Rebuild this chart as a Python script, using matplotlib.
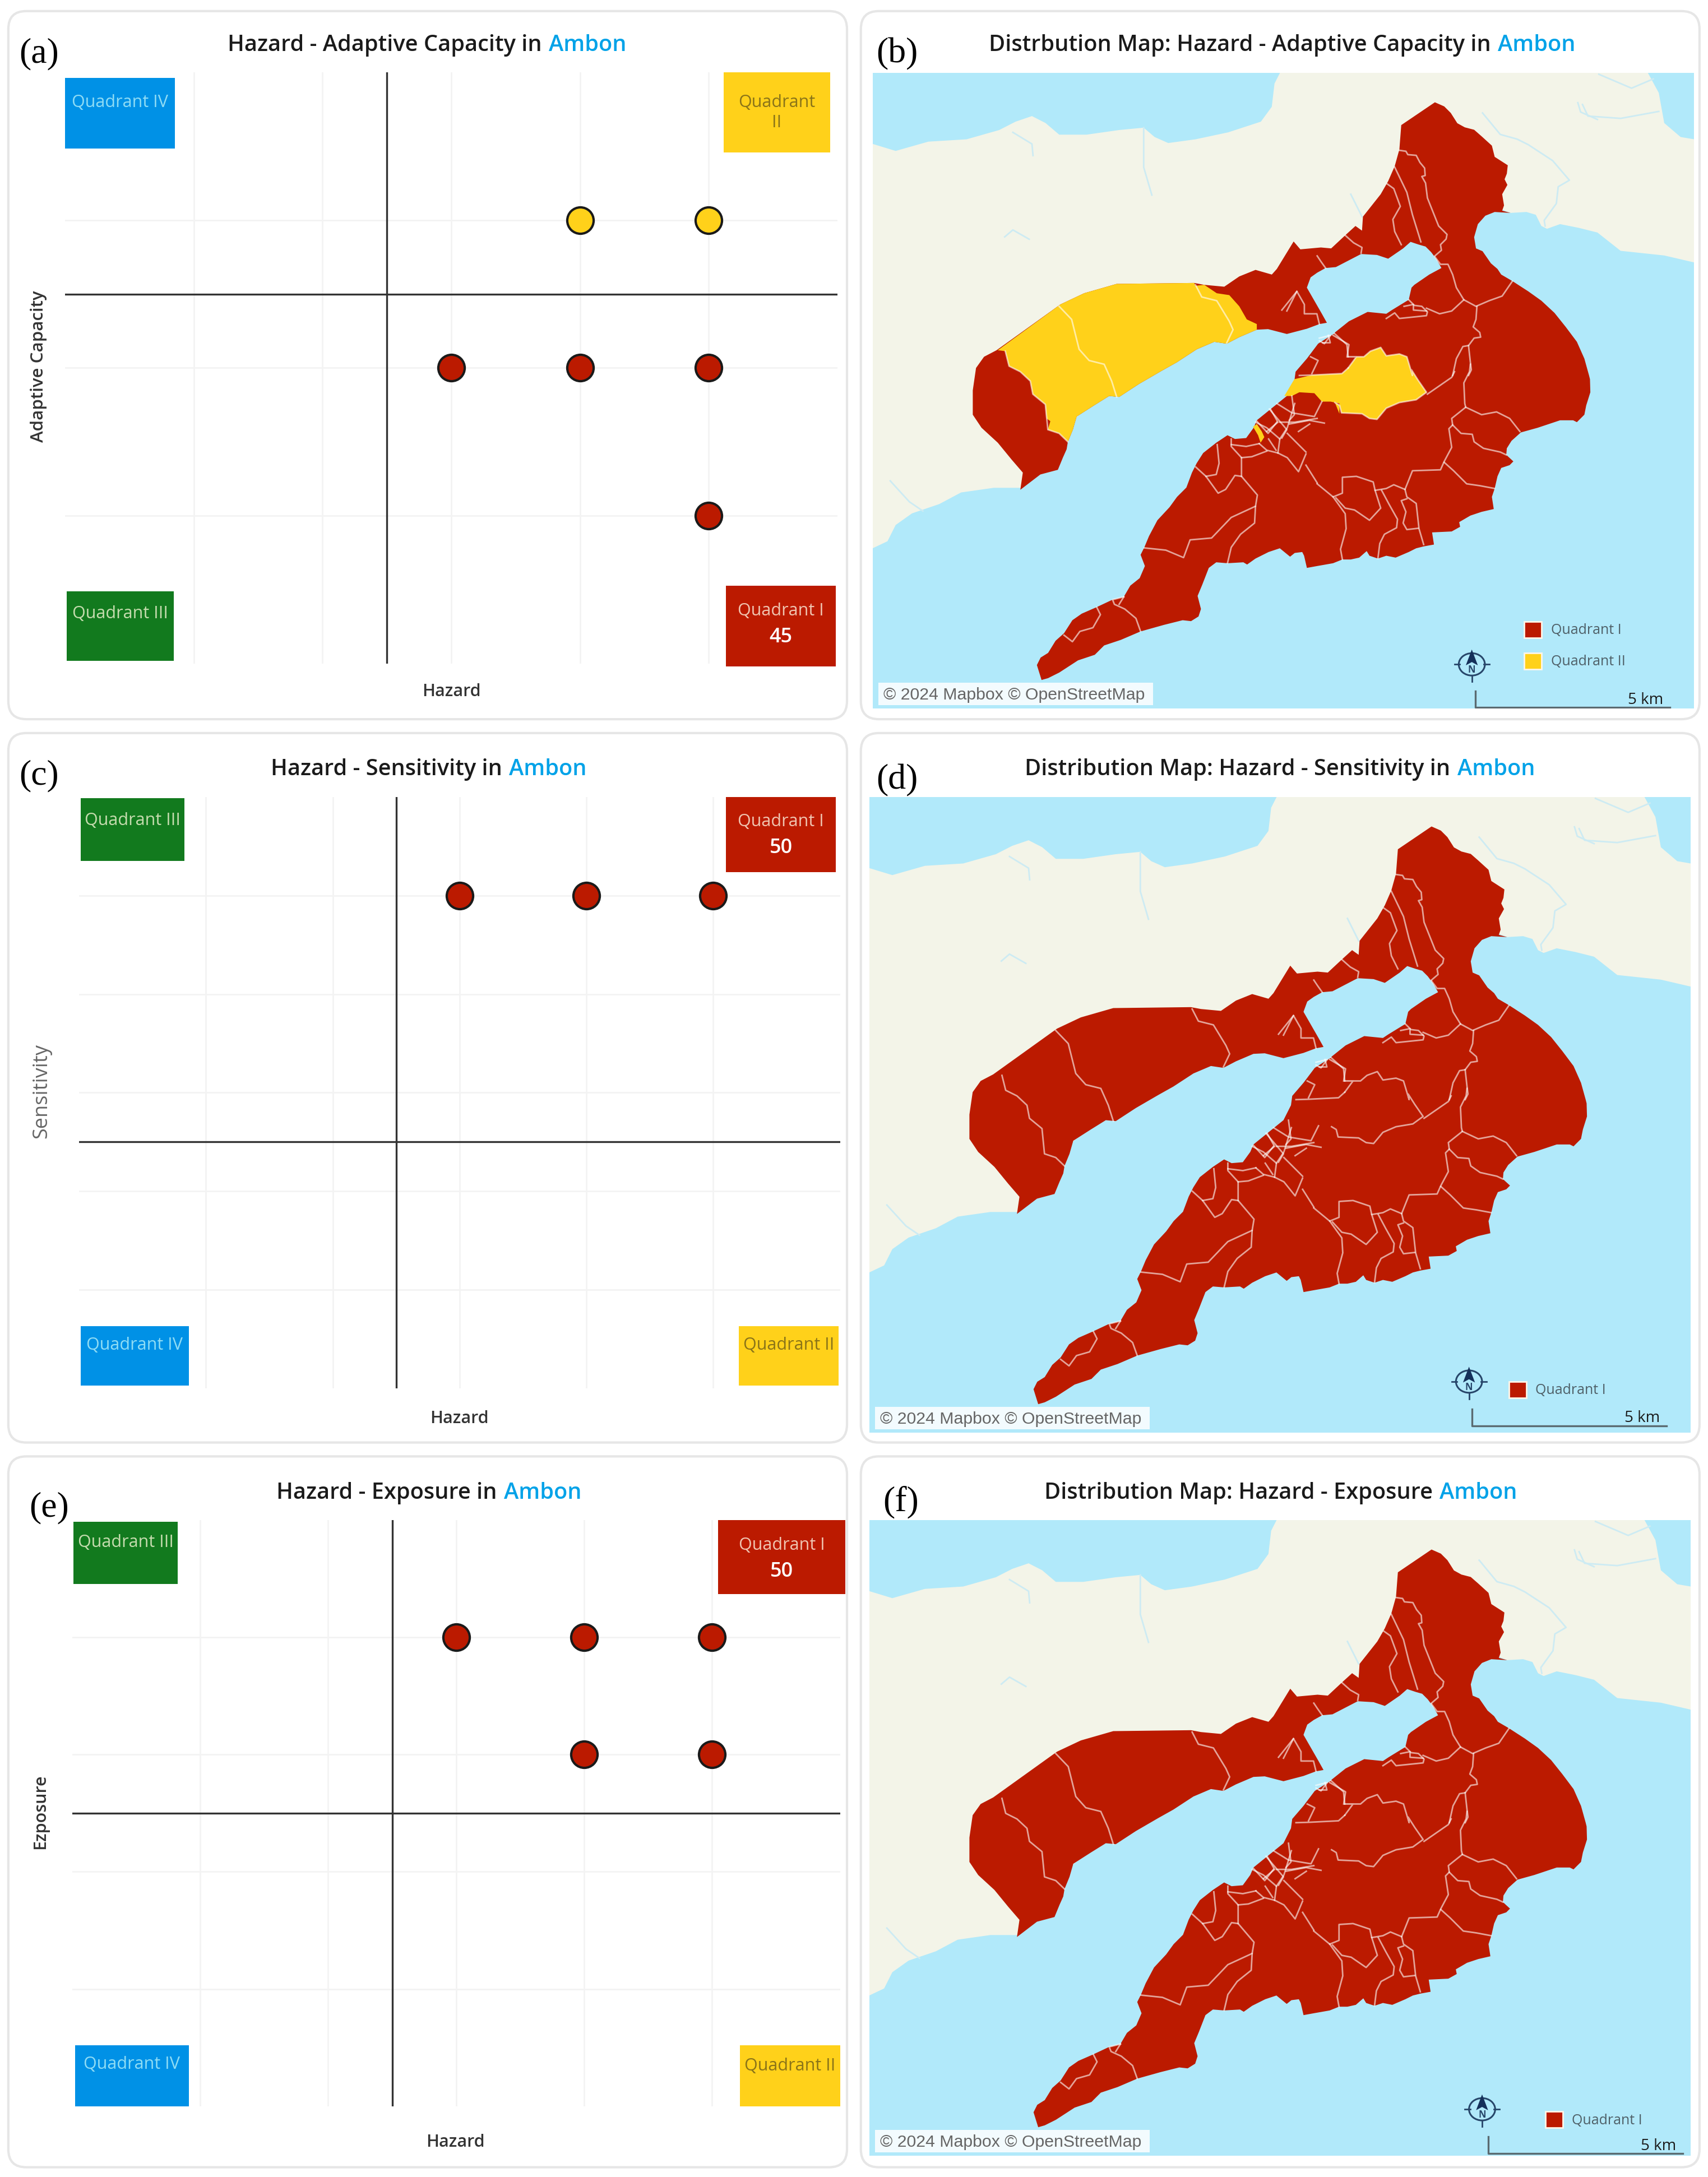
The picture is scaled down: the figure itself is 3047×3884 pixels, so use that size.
import matplotlib
matplotlib.use('Agg')
import matplotlib.pyplot as plt
from matplotlib.patches import FancyBboxPatch, Rectangle, Polygon, Circle

W, H = 3047, 3884
S = 2.477  # shrunk picture -> full size
RED = '#bb1a00'
YEL = '#ffd11a'
BLUE = '#0091e6'
GREEN = '#127a1e'
AMBON = '#00a2e8'
WATER = '#b1e9fa'
LAND = '#f3f4e8'
plt.rcParams['font.family'] = ['Open Sans', 'DejaVu Sans']

# scatter values (hazard, other dimension)
a_red = ([3, 4, 5, 5], [3, 3, 3, 2])
a_yel = ([4, 5], [4, 4])
c_red = ([3, 4, 5], [5, 5, 5])
e_red = ([3, 4, 5, 4, 5], [4, 4, 4, 3, 3])


def crop(x0, y0, sx, sy, pts):
    return [((x0 + px / sx - 1530) / 0.9724, (y0 + py / sy) / 0.829) for px, py in pts]


def cn(pts):
    return crop(2350, 170, 3, 3, pts)


def ce(pts):
    return crop(2350, 650, 3, 3, pts)


def cs(pts):
    return crop(1850, 720, 3, 3, pts)


def cw(pts):
    return crop(1720, 480, 2.24, 3, pts)


land_outline = ([(28, 310), (70, 325), (130, 305), (200, 300), (260, 280), (290, 262), (320, 250), (345, 265),
                 (370, 290), (420, 290), (480, 280), (525, 275), (545, 295), (570, 308), (620, 300), (680, 285),
                 (740, 262), (760, 230), (765, 180), (775, 157), (1450, 157), (1470, 200), (1480, 265), (1510, 295),
                 (1535, 300), (1535, 565), (1480, 550), (1400, 540)]
                + cn([(1500, 735), (1400, 710), (1300, 690), (1230, 715), (1200, 700), (1170, 640), (1120, 625),
                      (1035, 630), (700, 500), (300, 700)])
                + [(800, 620), (600, 700), (400, 900), (300, 1050), (250, 1050), (190, 1060), (150, 1085), (100, 1105),
                   (70, 1130), (55, 1165), (28, 1180)])

ambon_outline = (
    cn([(630, 38), (680, 60), (715, 95), (750, 150), (790, 172), (840, 185), (880, 220), (935, 270), (950, 330),
        (1020, 375), (1015, 420), (1003, 450), (1018, 480), (990, 530), (1000, 590), (990, 618), (1035, 630),
        (950, 625), (900, 645), (860, 690), (840, 760), (850, 820), (885, 835), (930, 900), (965, 930), (985, 960),
        (1045, 995), (1130, 1050), (1200, 1100), (1270, 1165), (1330, 1240), (1390, 1320), (1430, 1410), (1455, 1500)])
    + ce([(1460, 80), (1462, 150), (1440, 220), (1430, 270), (1390, 310), (1370, 300), (1300, 300), (1240, 320),
          (1180, 340), (1090, 365), (1040, 410), (1015, 450), (1012, 485), (1050, 520), (1030, 540), (985, 555),
          (965, 600), (950, 665), (935, 710), (945, 775), (880, 790), (820, 810), (760, 845), (765, 870), (720, 895),
          (615, 900), (625, 965), (570, 975), (530, 985), (490, 1005), (420, 1035), (370, 1025), (325, 1040),
          (280, 1025), (265, 1000), (225, 1035), (180, 1045), (135, 1045), (85, 1065), (0, 1080)])
    + cs([(1445, 880), (1430, 815), (1420, 795), (1380, 800), (1355, 820), (1300, 775), (1240, 795), (1170, 830),
          (1125, 862), (1105, 850), (1020, 855), (960, 850), (920, 880), (885, 970), (860, 1030), (878, 1100),
          (865, 1140), (825, 1165), (780, 1160), (680, 1185), (555, 1220), (450, 1265), (360, 1295), (310, 1345),
          (220, 1375), (120, 1440), (60, 1470), (25, 1480), (0, 1400), (20, 1360), (60, 1335), (100, 1270),
          (145, 1230), (190, 1160), (240, 1125), (320, 1090), (405, 1050), (465, 1035), (500, 975), (550, 935),
          (578, 870), (555, 810), (575, 770), (600, 710), (645, 625), (710, 555), (750, 500), (800, 450), (830, 370),
          (855, 320), (890, 265), (960, 210), (1020, 170), (1060, 190), (1120, 185), (1160, 130)])
    + cw([(1170, 810), (1230, 745), (1290, 680), (1320, 600), (1325, 550), (1370, 480), (1415, 400), (1480, 345)])
    + cn([(95, 1270), (170, 1210), (270, 1160), (370, 1170), (400, 1150), (490, 1095), (505, 1030), (520, 1015),
          (600, 960), (665, 925), (640, 880), (610, 840), (580, 810), (545, 800), (500, 785), (460, 820), (380, 875),
          (320, 855), (235, 850), (100, 920), (45, 925), (0, 950)])
    + cw([(1385, 45), (1370, 100), (1400, 170), (1430, 240), (1450, 288), (1420, 295), (1370, 320), (1290, 348),
          (1215, 322), (1170, 325), (1100, 365), (1050, 400), (1000, 390), (930, 430), (850, 500), (790, 545),
          (700, 615), (620, 685), (580, 680), (520, 730), (450, 790), (435, 860), (415, 925), (410, 965), (395, 1010),
          (375, 1075), (305, 1100), (225, 1182), (235, 1090), (190, 1020), (135, 930), (70, 850), (35, 780), (35, 650),
          (48, 530), (80, 470), (130, 435), (385, 190), (480, 130), (610, 80), (920, 75), (960, 85), (1040, 95),
          (1100, 40), (1165, 5), (1230, 30), (1250, 0)])
    + cn([(-126, 783), (-90, 825), (20, 815), (75, 820), (150, 750), (205, 700), (240, 725), (245, 650), (340, 530),
          (380, 460), (415, 380), (440, 290), (450, 160)])
)

yellow_areas = [
    cw([(135, 435), (385, 190), (480, 130), (610, 80), (920, 75), (925, 90), (960, 85), (1010, 130), (1060, 140),
        (1100, 200), (1130, 270), (1170, 295), (1170, 325), (1100, 365), (1050, 400), (1000, 390), (930, 430),
        (850, 500), (790, 545), (700, 615), (620, 685), (580, 680), (520, 730), (450, 790), (435, 860), (415, 925),
        (380, 880), (335, 860), (345, 815), (330, 800), (325, 725), (275, 670), (265, 600), (225, 550), (180, 520),
        (165, 440)]),
    cw([(1280, 680), (1320, 590), (1390, 568), (1510, 560), (1535, 530), (1568, 470)])
    + cn([(165, 1400), (250, 1400), (285, 1370), (340, 1350), (370, 1395), (440, 1385), (480, 1400), (510, 1500)])
    + ce([(505, 30), (540, 85), (585, 150), (530, 190), (440, 205), (370, 235), (320, 295), (280, 290), (240, 265),
          (130, 260), (120, 220), (95, 205)])
    + cw([(1500, 775), (1500, 720), (1465, 710), (1430, 710), (1400, 665), (1340, 660), (1310, 680)]),
    cw([(1155, 845), (1170, 830), (1190, 870), (1200, 900), (1185, 930), (1175, 890)]),
]

borders = [cn(b) for b in [
    [(440, 295), (475, 300), (485, 318), (530, 322), (550, 360), (575, 390), (578, 430), (560, 435), (580, 470),
     (590, 550), (610, 600), (650, 700), (695, 745), (690, 770), (660, 800), (665, 830), (630, 860)],
    [(415, 385), (480, 520), (510, 640), (555, 785)],
    [(375, 475), (410, 500), (445, 595), (405, 665), (415, 730), (450, 800)],
    [(150, 750), (195, 790), (240, 815), (235, 845)],
    [(0, 860), (20, 890), (45, 925)],
    [(630, 865), (660, 905), (700, 905), (725, 960), (745, 1030), (785, 1095), (850, 1130), (920, 1100), (990, 1075),
     (1045, 995)],
    [(855, 1130), (850, 1200), (835, 1240), (870, 1270), (875, 1295), (840, 1300), (810, 1340), (780, 1345), (745, 1410),
     (725, 1500)],
    [(810, 1340), (820, 1430), (825, 1470), (810, 1500)],
    [(785, 1095), (720, 1155), (655, 1170), (585, 1140)],
    [(490, 1095), (520, 1125), (560, 1130), (590, 1160), (585, 1180), (440, 1195), (415, 1165), (370, 1195)],
    [(465, 1130), (515, 1120), (515, 1150), (585, 1155)],
    [(85, 1285), (170, 1335), (160, 1400)],
    [(60, 1285), (70, 1325), (30, 1325)],
]] + [ce(b) for b in [
    [(820, 0), (815, 40), (785, 100), (790, 210), (795, 230), (720, 290), (725, 325), (705, 345), (720, 445), (680, 520),
     (660, 565), (510, 570), (470, 670), (480, 710), (530, 745), (545, 880), (570, 965)],
    [(735, 40), (720, 70), (590, 160)],
    [(795, 230), (880, 270), (960, 255), (1030, 290), (1085, 360)],
    [(725, 325), (770, 370), (830, 375), (840, 415), (890, 450), (980, 470), (1012, 485)],
    [(680, 525), (730, 570), (800, 640), (870, 650), (950, 665)],
    [(470, 670), (410, 645), (370, 665), (310, 675), (300, 630), (210, 600), (135, 605), (135, 690), (85, 710), (0, 640)],
    [(85, 710), (150, 800), (155, 880), (125, 990), (135, 1045)],
    [(100, 715), (150, 770), (200, 780), (280, 835), (340, 770), (310, 675)],
    [(345, 675), (385, 750), (430, 830), (425, 875), (360, 910), (335, 960), (325, 1040)],
    [(480, 720), (450, 730), (475, 790), (460, 850), (480, 885), (540, 878)],
]] + [cs(b) for b in [
    [(575, 773), (690, 785), (785, 825), (820, 730), (935, 720), (1040, 610), (1170, 550), (1165, 640), (1090, 700),
     (1040, 770), (1020, 855)],
    [(850, 340), (905, 390), (970, 480), (1010, 460), (1060, 385), (1095, 390), (1180, 490), (1170, 550)],
    [(965, 220), (975, 320), (960, 380), (905, 390)],
    [(1040, 190), (1040, 230), (1095, 290), (1095, 390)],
    [(1040, 220), (1120, 230), (1190, 215)],
    [(1095, 290), (1150, 285), (1230, 255)],
    [(1190, 215), (1230, 250), (1290, 265), (1340, 290), (1400, 365), (1440, 270)],
    [(1440, 330), (1500, 425)],
    [(1290, 265), (1300, 190), (1230, 130), (1170, 100)],
    [(1300, 190), (1340, 130), (1380, 0)],
    [(1230, 150), (1290, 100), (1250, 30)],
    [(1300, 100), (1380, 100), (1500, 80)],
    [(1240, 190), (1280, 250)],
    [(1340, 160), (1400, 220), (1440, 260)],
    [(1400, 150), (1460, 110)],
    [(465, 1035), (405, 1050), (415, 1075), (470, 1100), (530, 1150), (555, 1220)],
    [(440, 1075), (465, 1035)],
    [(320, 1090), (340, 1130), (300, 1200), (230, 1220), (190, 1275), (145, 1240)],
]] + [cw(b) for b in [
    [(380, 200), (430, 270), (460, 430), (500, 490), (560, 510), (590, 600), (610, 685)],
    [(925, 85), (950, 150), (1010, 170), (1060, 280), (1075, 325), (1050, 395)],
    [(1290, 225), (1330, 120), (1360, 190), (1360, 240), (1410, 240), (1420, 295)],
    [(1270, 220), (1330, 120)],
    [(165, 440), (180, 520), (225, 550), (265, 600), (275, 670), (325, 725), (335, 860), (380, 880), (415, 925)],
    [(1480, 345), (1530, 405), (1535, 470)],
    [(1420, 385), (1440, 400), (1465, 355), (1420, 370)],
    [(1385, 470), (1415, 490), (1390, 560)],
    [(1310, 680), (1320, 780), (1300, 810)],
    [(1250, 720), (1310, 770), (1400, 790), (1430, 710)],
    [(1220, 750), (1290, 860), (1270, 905)],
    [(1300, 830), (1380, 810), (1440, 825)],
    [(1170, 815), (1215, 880), (1250, 820)],
    [(1340, 570), (1390, 568), (1510, 560), (1535, 530)],
]] + [yellow_areas[1][4:26]]

rivers = [
    [(285, 285), (320, 310), (322, 335)],
    [(525, 275), (525, 360), (540, 420)],
    [(270, 510), (285, 495), (315, 515)],
    cn([(180, 530), (205, 580), (240, 650)]),
    [(60, 1035), (95, 1080), (120, 1100)],
    cn([(885, 95), (980, 210), (1070, 235), (1130, 265), (1260, 350), (1350, 455), (1290, 490), (1280, 580), (1215, 670),
        (1220, 700)]),
    cn([(1395, 40), (1410, 90), (1500, 130)]),
    [(1330, 225), (1340, 250), (1400, 255), (1470, 240)],
    [(1360, 160), (1420, 190), (1460, 170)],
]

fig = plt.figure(figsize=(W / 100, H / 100), dpi=100, facecolor='white')
bg = fig.add_axes([0, 0, 1, 1])
bg.set_xlim(0, W)
bg.set_ylim(H, 0)
bg.axis('off')


def add_axes_px(x0, y0, x1, y1, **kw):
    return fig.add_axes([x0 / W, 1 - y1 / H, (x1 - x0) / W, (y1 - y0) / H], **kw)


def frame(x0, y0, x1, y1):
    x0, y0, x1, y1 = x0 * S, y0 * S, x1 * S, y1 * S
    bg.add_patch(FancyBboxPatch((x0 + 25, y0 + 25), x1 - x0 - 50, y1 - y0 - 50, boxstyle='round,pad=25,rounding_size=32',
                                fc='white', ec='#e6e6e6', lw=3))


def title(x, y, s):
    t = bg.text(x * S, (y + 1.5) * S, s, fontsize=28.6, color='#1a1a1a', va='center', ha='left', fontweight='semibold')
    bg.annotate('Ambon', xy=(1, 0), xycoords=t, va='bottom', ha='left', fontsize=28.6, color=AMBON,
                fontweight='semibold', xytext=(9, 0), textcoords='offset points')


def tag(x, y, s):
    bg.text(x * S, y * S, s, fontsize=46, family='Liberation Serif', color='black', va='center', ha='left')


def quad(x0, y0, x1, y1, color, s, tcolor, n=None, ty=None):
    bg.add_patch(Rectangle((x0 * S, y0 * S), (x1 - x0) * S, (y1 - y0) * S, fc=color, ec='none', zorder=3))
    bg.text((x0 + x1) / 2 * S, (ty + 1) * S, s, fontsize=22, color=tcolor, ha='center', va='center',
            zorder=4, linespacing=1.25)
    if n:
        bg.text((x0 + x1) / 2 * S, (ty + 20) * S, n, fontsize=26, color='white', ha='center', va='center',
                fontweight='semibold', zorder=4)


def scatter_panel(box, ylim, yticks, ymed, xlabel_pos, ylabel, ylabel_pos, ysize, ycolor, pts):
    ax = add_axes_px(box[0] * S, box[1] * S, box[2] * S, box[3] * S, facecolor='none')
    ax.set_zorder(2)
    ax.set_xlim(0, 6)
    ax.set_ylim(*ylim)
    ax.set_xticks([1, 2, 3, 4, 5])
    ax.set_yticks(yticks)
    ax.tick_params(length=0, labelbottom=False, labelleft=False)
    ax.grid(True, color='#f3f3f3', lw=2)
    ax.set_axisbelow(True)
    for s in ax.spines.values():
        s.set_visible(False)
    ax.axvline(2.5, color='#333333', lw=2.4, zorder=1.5)
    ax.axhline(ymed, color='#333333', lw=2.4, zorder=1.5)
    for xs, ys, c in pts:
        ax.scatter(xs, ys, s=1150, c=c, edgecolors='#1a1a1a', linewidths=3, zorder=3, clip_on=False)
    bg.text(xlabel_pos[0] * S, (xlabel_pos[1] + 1) * S, 'Hazard', fontsize=22, color='#333333', ha='center', va='center',
            fontweight='semibold')
    bg.text(ylabel_pos[0] * S, ylabel_pos[1] * S, ylabel, fontsize=ysize, color=ycolor, rotation=90, ha='center',
            va='center', fontweight='semibold' if ycolor == '#333333' else 'normal')


def map_panel(x0, y0, yellow=False):
    # axes use the coordinates of the traces above
    x1 = x0 + (1535 - 28) * 0.9724
    y1 = y0 + (1525 - 157) * 0.829
    ax = add_axes_px(x0, y0, x1, y1, facecolor=WATER)
    ax.set_xlim(28, 1535)
    ax.set_ylim(1525, 157)
    ax.axis('off')
    ax.add_patch(Rectangle((28, 157), 1507, 1368, fc=WATER, ec='none', zorder=0))
    ax.add_patch(Polygon(land_outline, fc=LAND, ec='none', zorder=1))
    for r in rivers:
        ax.plot(*zip(*r), color='#cdebf3', lw=2, zorder=1.5)
    ax.add_patch(Polygon(ambon_outline, fc=RED, ec='none', zorder=2))
    if yellow:
        for y in yellow_areas:
            ax.add_patch(Polygon(y, fc=YEL, ec='none', zorder=2.5))
    for b in borders:
        ax.plot(*zip(*b), color='white', alpha=0.6, lw=2, zorder=3)
    ax.add_patch(Rectangle((38, 1470), 504, 48, fc='white', ec='none', alpha=0.85, zorder=4))
    ax.text(48, 1496, '© 2024 Mapbox © OpenStreetMap', fontsize=21.8, family='Liberation Sans', color='#666666',
            va='center', ha='left', zorder=5)
    return ax


def map_extras(ax, legend, north, scale, km_y):
    for (x, y, c, s) in legend:
        ax.add_patch(Rectangle((x, y), 32, 35, fc=c, ec='#fff6e8', lw=2, zorder=5))
        ax.text(x + 49, y + 19, s, fontsize=18, color='#4f6068', va='center', ha='left', zorder=5)
    nx, ny = north
    ink = '#27466a'
    ax.add_patch(Circle((nx, ny), 24, fc='none', ec=ink, lw=2.2, zorder=5))
    for dx, dy in [(-1, 0), (1, 0), (0, 1)]:
        ax.plot([nx + 22 * dx, nx + 32 * dx], [ny + 26 * dy, ny + 37 * dy], color=ink, lw=2, zorder=5)
    ax.add_patch(Polygon([(nx - 11, ny + 2), (nx, ny - 32), (nx + 11, ny + 2), (nx, ny - 5)], fc='#15305a', ec='none',
                         zorder=6))
    ax.text(nx, ny + 12, 'N', fontsize=12, color=ink, fontweight='bold', ha='center', va='center', zorder=6)
    sx, sy = scale
    ax.plot([sx, sx, sx + 357], [sy - 36, sy, sy], color='#5a6a70', lw=2.4, zorder=5)
    ax.text(sx + 345, km_y, '5 km', fontsize=20, color='#1a1a1a', ha='right', va='center', zorder=6)


for box in [(6, 8, 610, 518), (620, 8, 1224, 518), (6, 528, 610, 1039), (620, 528, 1224, 1039),
            (6, 1049, 610, 1561), (620, 1049, 1224, 1561)]:
    frame(*box)

# (a)
title(164, 31, 'Hazard - Adaptive Capacity in')
tag(14, 39, '(a)')
quad(47, 56, 126, 107, BLUE, 'Quadrant IV', '#8fdcf5', ty=73)
quad(521, 52, 598, 110, YEL, 'Quadrant\nII', '#8a7418', ty=80)
quad(48, 426, 125, 476, GREEN, 'Quadrant III', '#c5dcae', ty=441)
quad(523, 422, 602, 480, RED, 'Quadrant I', '#f0c4b0', n='45', ty=439)
scatter_panel((47, 52, 603, 478), (1, 5), [2, 3, 4], 3.5, (325, 497), 'Adaptive Capacity', (28, 264), 22.5, '#333333',
              [(*a_red, RED), (*a_yel, YEL)])

# (c)
title(195, 553, 'Hazard - Sensitivity in')
tag(14, 559, '(c)')
quad(58, 575, 133, 620, GREEN, 'Quadrant III', '#c5dcae', ty=590)
quad(523, 574, 602, 628, RED, 'Quadrant I', '#f0c4b0', n='50', ty=591)
quad(58, 955, 136, 998, BLUE, 'Quadrant IV', '#8fdcf5', ty=968)
quad(532, 955, 604, 998, YEL, 'Quadrant II', '#8a7418', ty=968)
scatter_panel((57, 574, 605, 1000), (0, 6), [1, 2, 3, 4, 5], 2.5, (331, 1021), 'Sensitivity', (30, 786), 26, '#666666',
              [(*c_red, RED)])

# (e)
title(199, 1074, 'Hazard - Exposure in')
tag(21, 1086, '(e)')
quad(53, 1096, 128, 1141, GREEN, 'Quadrant III', '#c5dcae', ty=1110)
quad(517, 1095, 609, 1148, RED, 'Quadrant I', '#f0c4b0', n='50', ty=1112)
quad(54, 1473, 136, 1517, BLUE, 'Quadrant IV', '#8fdcf5', ty=1486)
quad(533, 1473, 605, 1517, YEL, 'Quadrant II', '#8a7418', ty=1487)
scatter_panel((52, 1095, 605, 1517), (0, 5), [1, 2, 3, 4], 2.5, (328, 1542), 'Ezposure', (29, 1305), 22, '#333333',
              [(*e_red, RED)])

# (b)
title(712, 31, 'Distrbution Map: Hazard - Adaptive Capacity in')
tag(631, 39, '(b)')
m = map_panel(1557, 130, yellow=True)
map_extras(m, [(1223, 1338, RED, 'Quadrant I'), (1223, 1405, YEL, 'Quadrant II')], (1127, 1430), (1133, 1523), 1507)

# (d)
title(738, 553, 'Distribution Map: Hazard - Sensitivity in')
tag(631, 562, '(d)')
m = map_panel(1551, 1422)
map_extras(m, [(1201, 1415, RED, 'Quadrant I')], (1128, 1415), (1133, 1510), 1494)

# (f)
title(752, 1074, 'Distribution Map: Hazard - Exposure')
tag(636, 1082, '(f)')
m = map_panel(1551, 2712)
map_extras(m, [(1268, 1430, RED, 'Quadrant I')], (1152, 1425), (1163, 1520), 1504)

fig.savefig('out.png', dpi=100)
